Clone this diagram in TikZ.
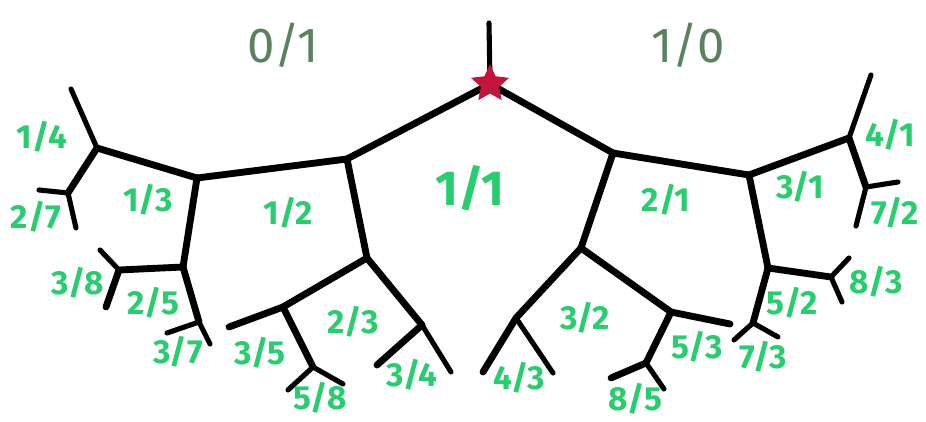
\documentclass[tikz,border=0pt]{standalone}
\usepackage{fontspec}
\setmainfont{Fira Sans}
\usetikzlibrary{shapes.geometric}
\definecolor{leafgreen}{RGB}{40,205,110}
\definecolor{dotgreen}{RGB}{90,130,95}
\definecolor{starred}{RGB}{195,20,60}

\begin{document}
\begin{tikzpicture}[
  x=0.02cm, y=-0.02cm,
  edge/.style={line width=3.9pt, line cap=round, line join=round},
  twig/.style={line width=2.9pt, line cap=round},
  frac/.style={text=leafgreen, font=\fontsize{19}{19}\selectfont\bfseries, inner sep=0pt},
  bound/.style={text=dotgreen, font=\fontsize{28}{28}\selectfont, inner sep=0pt},
  rootstar/.style={star, star points=5, star point ratio=2.1, fill=starred, minimum size=0.8cm, inner sep=0pt}
]
\useasboundingbox (0,0) rectangle (926,422);

% junctions
\coordinate (top) at (489,23);
\coordinate (rootpt) at (490,84);
\coordinate (j12) at (347,159);
\coordinate (j13) at (197,178);
\coordinate (j14) at (97,148);
\coordinate (j27) at (68,193);
\coordinate (j25) at (183,267);
\coordinate (j38) at (119,270);
\coordinate (j37) at (199,322);
\coordinate (j23) at (367,258);
\coordinate (j35) at (283,307);
\coordinate (j58) at (313,367);
\coordinate (j34) at (422,325);
\coordinate (j21) at (613,153);
\coordinate (j31) at (749,175);
\coordinate (j41) at (849,138);
\coordinate (j72) at (866,187);
\coordinate (j52) at (768,268);
\coordinate (j83) at (831,277);
\coordinate (j73) at (753,323);
\coordinate (j32) at (581,248);
\coordinate (j43) at (516,318);
\coordinate (j53) at (671,312);
\coordinate (j85) at (646,363);

% tips
\coordinate (t14) at (71,89);
\coordinate (t27a) at (39,190);
\coordinate (t27b) at (76,228);
\coordinate (t38a) at (100,250);
\coordinate (t38b) at (106,307);
\coordinate (t37a) at (167,333);
\coordinate (t37b) at (210,344);
\coordinate (t35) at (229,327);
\coordinate (t58a) at (288,390);
\coordinate (t58b) at (343,384);
\coordinate (t34a) at (377,365);
\coordinate (t34b) at (451,372);
\coordinate (t41) at (871,75);
\coordinate (t72a) at (898,182);
\coordinate (t72b) at (856,226);
\coordinate (t83a) at (849,258);
\coordinate (t83b) at (842,302);
\coordinate (t73a) at (734,340);
\coordinate (t73b) at (778,337);
\coordinate (t43a) at (483,372);
\coordinate (t43b) at (553,373);
\coordinate (t53) at (730,324);
\coordinate (t85a) at (611,378);
\coordinate (t85b) at (664,389);

% left half
\draw[twig] (top) -- (rootpt);
\draw[edge] (rootpt) -- (j12);
\draw[edge] (j12) -- (j13);
\draw[edge] (j13) -- (j14);
\draw[edge] (j14) -- (j27);
\draw[edge] (j13) -- (j25);
\draw[edge] (j25) -- (j38);
\draw[edge] (j25) -- (j37);
\draw[edge] (j12) -- (j23);
\draw[edge] (j23) -- (j35);
\draw[edge] (j35) -- (j58);
\draw[edge] (j23) -- (j34);
\draw[twig] (j14) -- (t14);
\draw[twig] (j27) -- (t27a);
\draw[twig] (j27) -- (t27b);
\draw[twig] (j38) -- (t38a);
\draw[edge] (j38) -- (t38b);
\draw[twig] (j37) -- (t37a);
\draw[twig] (j37) -- (t37b);
\draw[edge] (j35) -- (t35);
\draw[twig] (j58) -- (t58a);
\draw[twig] (j58) -- (t58b);
\draw[edge] (j34) -- (t34a);
\draw[twig] (j34) -- (t34b);

% right half
\draw[edge] (rootpt) -- (j21);
\draw[edge] (j21) -- (j31);
\draw[edge] (j31) -- (j41);
\draw[edge] (j41) -- (j72);
\draw[edge] (j31) -- (j52);
\draw[edge] (j52) -- (j83);
\draw[edge] (j52) -- (j73);
\draw[edge] (j21) -- (j32);
\draw[edge] (j32) -- (j43);
\draw[edge] (j32) -- (j53);
\draw[edge] (j53) -- (j85);
\draw[twig] (j41) -- (t41);
\draw[twig] (j72) -- (t72a);
\draw[twig] (j72) -- (t72b);
\draw[twig] (j83) -- (t83a);
\draw[twig] (j83) -- (t83b);
\draw[twig] (j73) -- (t73a);
\draw[twig] (j73) -- (t73b);
\draw[edge] (j43) -- (t43a);
\draw[twig] (j43) -- (t43b);
\draw[edge] (j53) -- (t53);
\draw[edge] (j85) -- (t85a);
\draw[twig] (j85) -- (t85b);

\node[rootstar] (star) at (rootpt) {};

% labels
\node[bound] (zero) at (283,45) {0/1};
\node[bound] (infty) at (688,45) {1/0};
\node[frac, font=\fontsize{28}{28}\selectfont\bfseries] (one) at (470,188) {1/1};
\node[frac] (f12) at (288,213) {1/2};
\node[frac] (f13) at (148,200) {1/3};
\node[frac] (f14) at (42,137) {1/4};
\node[frac] (f27) at (36,217) {2/7};
\node[frac] (f38) at (78,283) {3/8};
\node[frac] (f25) at (153,303) {2/5};
\node[frac] (f37) at (178,352) {3/7};
\node[frac] (f35) at (260,353) {3/5};
\node[frac] (f23) at (353,322) {2/3};
\node[frac] (f58) at (320,398) {5/8};
\node[frac] (f34) at (412,375) {3/4};
\node[frac] (f43) at (519,378) {4/3};
\node[frac] (f32) at (585,318) {3/2};
\node[frac] (f53) at (697,347) {5/3};
\node[frac] (f85) at (635,399) {8/5};
\node[frac] (f73) at (763,357) {7/3};
\node[frac] (f52) at (792,303) {5/2};
\node[frac] (f83) at (876,282) {8/3};
\node[frac] (f21) at (666,200) {2/1};
\node[frac] (f31) at (800,187) {3/1};
\node[frac] (f41) at (890,135) {4/1};
\node[frac] (f72) at (895,213) {7/2};

\end{tikzpicture}
\end{document}
